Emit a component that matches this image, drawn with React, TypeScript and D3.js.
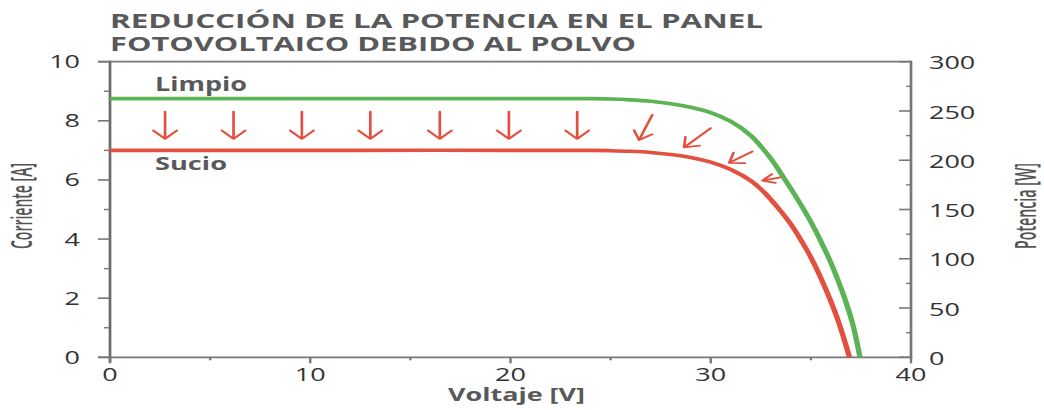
import React from "react";
import * as d3 from "d3";

// ---- data ----
const TITLE_LINES = ["REDUCCIÓN DE LA POTENCIA EN EL PANEL", "FOTOVOLTAICO DEBIDO AL POLVO"];
const X_TICKS = [0, 10, 20, 30, 40];
const X_MINOR = [5, 15, 25, 35];
const Y_TICKS = [0, 2, 4, 6, 8, 10];
const Y_MINOR = [1, 3, 5, 7, 9];
const Y2_TICKS = [0, 50, 100, 150, 200, 250, 300];
const Y2_MINOR = [25, 75, 125, 175, 225, 275];

const VOLT_CLEAN = [0, 12, 24, 25, 26, 27, 28, 29, 30, 31, 32, 33, 33.67, 34.33, 35, 35.5, 36, 36.58, 37.08, 37.45];
const CUR_CLEAN = [8.75, 8.75, 8.75, 8.74, 8.71, 8.66, 8.58, 8.46, 8.28, 7.98, 7.5, 6.72, 6.05, 5.35, 4.58, 3.92, 3.2, 2.2, 1.15, 0];
const VOLT_DIRTY = [0, 12, 24, 25, 26, 27, 28, 29, 30, 31, 32, 32.67, 33.33, 34, 34.58, 35, 35.67, 36.33, 36.93];
const CUR_DIRTY = [7.0, 7.0, 7.0, 6.99, 6.97, 6.93, 6.86, 6.76, 6.6, 6.35, 5.97, 5.58, 5.08, 4.5, 3.88, 3.38, 2.42, 1.3, 0];

// arrows: start (V, I) -> tip (V, I)
const ARROW_V0 = [2.75, 6.17, 9.58, 13.0, 16.47, 19.92, 23.33, 27.08, 30.0, 32.08, 33.47];
const ARROW_I0 = [8.31, 8.31, 8.31, 8.31, 8.31, 8.31, 8.31, 8.2, 7.75, 6.96, 6.09];
const ARROW_V1 = [2.75, 6.17, 9.58, 13.0, 16.47, 19.92, 23.33, 26.42, 28.67, 30.92, 32.58];
const ARROW_I1 = [7.39, 7.39, 7.39, 7.39, 7.39, 7.39, 7.39, 7.35, 7.1, 6.58, 5.98];

const S = 1.5; // horizontal stretch of the picture
const W = 1044, H = 410;
const GREEN = "#5cb356";
const RED = "#e2503f";
const AXIS = "#777";
const TXT = "#58595b";
const NUM = "#333";

export default function App() {
  const x = d3.scaleLinear().domain([0, 40]).range([110 / S, 911 / S]);
  const y = d3.scaleLinear().domain([0, 10]).range([357.3, 61.7]);
  const y2 = d3.scaleLinear().domain([0, 300]).range([357.3, 61.7]);
  const x0 = x(0), x1 = x(40);

  const line = d3
    .line<[number, number]>()
    .x((d) => x(d[0]))
    .y((d) => y(d[1]))
    .curve(d3.curveCatmullRom.alpha(0.5));

  const clean = VOLT_CLEAN.map((v, i) => [v, CUR_CLEAN[i]] as [number, number]);
  const dirty = VOLT_DIRTY.map((v, i) => [v, CUR_DIRTY[i]] as [number, number]);

  const arrows = ARROW_V0.map((v, i) => {
    const ax = x(v), ay = y(ARROW_I0[i]);
    const bx = x(ARROW_V1[i]), by = y(ARROW_I1[i]);
    const ang = Math.atan2(ay - by, ax - bx);
    const vertical = Math.abs(ax - bx) < 0.01;
    const last = i === ARROW_V0.length - 1;
    const spread = ((vertical ? 43 : last ? 30 : 38) * Math.PI) / 180;
    const len = vertical ? 11.4 : last ? 9 : 10.5;
    const h1 = [bx + len * Math.cos(ang + spread), by + len * Math.sin(ang + spread)];
    const h2 = [bx + len * Math.cos(ang - spread), by + len * Math.sin(ang - spread)];
    return `M${ax},${ay}L${bx},${by}M${h1[0]},${h1[1]}L${bx},${by}L${h2[0]},${h2[1]}`;
  });

  const numFont = "'Open Sans', 'Liberation Sans', sans-serif";

  return (
    <svg width={W} height={H} style={{ position: "absolute", left: 0, top: 0, background: "#fff" }}>
      <rect width={W} height={H} fill="#fff" />
      <g transform={`scale(${S},1)`}>
        {/* title */}
        {TITLE_LINES.map((t, i) => (
          <text
            key={t}
            x={110 / S}
            y={28.5 + i * 23}
            fontFamily={numFont}
            fontWeight={700}
            fontSize={19.5}
            fill={TXT}
            textLength={i === 0 ? 653 / S : 526 / S}
            lengthAdjust="spacingAndGlyphs"
          >
            {t}
          </text>
        ))}

        {/* frame lines */}
        <line x1={x0 - 8} x2={x1} y1={y(10)} y2={y(10)} stroke={AXIS} strokeWidth={1.8} />
        <line x1={x0 - 8} x2={x1 + 0.8} y1={y(0)} y2={y(0)} stroke={AXIS} strokeWidth={1.8} />
        <line x1={x0} x2={x0} y1={y(10) - 0.9} y2={y(0) + 5} stroke="#6a6a6a" strokeWidth={1.8} />
        <line x1={x1} x2={x1} y1={y(10) - 0.9} y2={y(0) + 0.9} stroke={AXIS} strokeWidth={1.8} />

        {/* left ticks */}
        {Y_TICKS.map((t) => (
          <g key={"yl" + t}>
            <line x1={x0 - 8} x2={x0} y1={y(t)} y2={y(t)} stroke={AXIS} strokeWidth={1.6} />
            <text x={80 / S} y={y(t)} dy="0.36em" textAnchor="end" fontFamily={numFont} fontSize={18} fill={NUM}>
              {t}
            </text>
          </g>
        ))}
        {Y_MINOR.map((t) => (
          <line key={"ylm" + t} x1={x0 - 4} x2={x0} y1={y(t)} y2={y(t)} stroke={AXIS} strokeWidth={1.4} />
        ))}

        {/* right ticks */}
        {Y2_TICKS.map((t) => (
          <g key={"yr" + t}>
            <line x1={x1 - 8} x2={x1} y1={y2(t)} y2={y2(t)} stroke={AXIS} strokeWidth={1.6} />
            <text x={929 / S} y={y2(t) + 1.2} dy="0.36em" textAnchor="start" fontFamily={numFont} fontSize={18} fill={NUM}>
              {t}
            </text>
          </g>
        ))}
        {Y2_MINOR.map((t) => (
          <line key={"yrm" + t} x1={x1 - 3.3} x2={x1} y1={y2(t)} y2={y2(t)} stroke={AXIS} strokeWidth={1.4} />
        ))}

        {/* bottom ticks */}
        {X_TICKS.map((t) => (
          <g key={"x" + t}>
            <line x1={x(t)} x2={x(t)} y1={y(0)} y2={y(0) + 6} stroke={AXIS} strokeWidth={1.6} />
            <text x={x(t)} y={381.5} textAnchor="middle" fontFamily={numFont} fontSize={18} fill={NUM}>
              {t}
            </text>
          </g>
        ))}
        {X_MINOR.map((t) => (
          <line key={"xm" + t} x1={x(t)} x2={x(t)} y1={y(0)} y2={y(0) + 3} stroke={AXIS} strokeWidth={1.6} />
        ))}

        {/* axis titles */}
        <text
          transform={`translate(${32 / S},206) rotate(-90)`}
          textAnchor="middle"
          fontFamily={numFont}
          fontWeight={600}
          fontSize={19}
          fill="#555"
          textLength={86}
          lengthAdjust="spacingAndGlyphs"
        >
          Corriente [A]
        </text>
        <text
          transform={`translate(${1036 / S},206) rotate(-90)`}
          textAnchor="middle"
          fontFamily={numFont}
          fontWeight={600}
          fontSize={19}
          fill="#555"
          textLength={86}
          lengthAdjust="spacingAndGlyphs"
        >
          Potencia [W]
        </text>
        <text
          x={516.5 / S}
          y={401}
          textAnchor="middle"
          fontFamily={numFont}
          fontWeight={700}
          fontSize={18.5}
          fill={TXT}
          textLength={137 / S}
          lengthAdjust="spacingAndGlyphs"
        >
          Voltaje [V]
        </text>

        {/* curves */}
        <path d={line(clean) || ""} fill="none" stroke={GREEN} strokeWidth={3.6} />
        <path d={line(dirty) || ""} fill="none" stroke={RED} strokeWidth={3.6} />

        {/* arrows */}
        {arrows.map((d, i) => (
          <path key={"a" + i} d={d} fill="none" stroke={RED} strokeWidth={1.8} strokeLinecap="round" strokeLinejoin="round" />
        ))}

        {/* labels */}
        <text x={155 / S} y={91} fontFamily={numFont} fontWeight={700} fontSize={19} fill={TXT} textLength={92 / S} lengthAdjust="spacingAndGlyphs">
          Limpio
        </text>
        <text x={155 / S} y={170} fontFamily={numFont} fontWeight={700} fontSize={18.5} fill={TXT} textLength={72 / S} lengthAdjust="spacingAndGlyphs">
          Sucio
        </text>
      </g>
    </svg>
  );
}
